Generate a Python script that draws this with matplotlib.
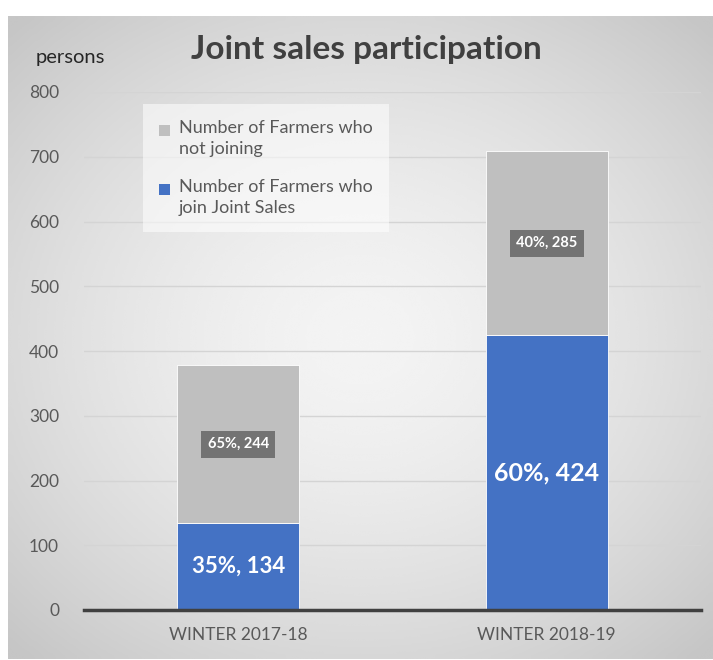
#!/usr/bin/env python3
"""
Stacked bar chart of joint sales participation per winter season.
"""
import numpy as np
import matplotlib
matplotlib.use("Agg")
import matplotlib.pyplot as plt
from matplotlib.patches import Patch

plt.rcParams['font.family'] = ['Lato', 'DejaVu Sans']

seasons = ["WINTER 2017-18", "WINTER 2018-19"]
joined = [134, 424]
not_joined = [244, 285]
joined_pct = [35, 60]
not_joined_pct = [65, 40]
series_names = ["Number of Farmers who\nnot joining",
                "Number of Farmers who\njoin Joint Sales"]

BLUE = "#4472c4"
GREY = "#bfbfbf"
TEXT = "#595959"


def main():
    fig = plt.figure(figsize=(7.13, 6.6), dpi=100)
    W, H = 713, 660

    # Radial grey panel behind the chart
    bg = fig.add_axes([8 / W, 1 / H, 705 / W, 643 / H], zorder=-5)
    yy, xx = np.mgrid[-1:1:300j, -1:1:300j]
    r = np.sqrt((xx * 0.95) ** 2 + (yy * 1.0) ** 2)
    shade = 0.955 - 0.18 * np.clip(r / 1.35, 0, 1) ** 1.6
    bg.imshow(shade, cmap="gray", vmin=0, vmax=1, aspect="auto",
              extent=[0, 1, 0, 1], interpolation="bicubic")
    bg.axis("off")

    ax = fig.add_axes([84 / W, 1 - 610 / H, 617 / W, 518 / H])
    ax.patch.set_alpha(0)
    x = np.arange(len(seasons))
    width = 0.395

    ax.bar(x, joined, width, color=BLUE, zorder=3,
           edgecolor="white", linewidth=0.6)
    ax.bar(x, not_joined, width, bottom=joined, color=GREY, zorder=3,
           edgecolor="white", linewidth=0.6)

    for i in range(len(seasons)):
        ax.text(x[i], joined[i] / 2, f"{joined_pct[i]}%, {joined[i]}",
                ha="center", va="center", color="white",
                fontsize=16 if joined[i] < 300 else 18, fontweight="bold",
                zorder=5)
        ax.text(x[i], joined[i] + not_joined[i] / 2,
                f"{not_joined_pct[i]}%, {not_joined[i]}",
                ha="center", va="center", color="white", fontsize=10.5,
                fontweight="bold", zorder=5,
                bbox=dict(boxstyle="square,pad=0.45", fc="#737373", ec="none"))

    ax.set_xlim(-0.5, 1.5)
    ax.set_ylim(0, 800)
    ax.set_yticks(range(0, 801, 100))
    ax.set_xticks(x)
    ax.set_xticklabels(seasons)
    ax.grid(axis="y", color="#d4d4d4", linewidth=1, zorder=0)
    for side in ["top", "right", "left"]:
        ax.spines[side].set_visible(False)
    ax.spines["bottom"].set_color("#404040")
    ax.spines["bottom"].set_linewidth(2.5)
    ax.spines["bottom"].set_zorder(4)
    ax.tick_params(axis="both", length=0, labelsize=12.5, colors=TEXT)
    ax.tick_params(axis="y", pad=18)
    ax.tick_params(axis="x", pad=12)

    fig.text(70 / W, 1 - 57 / H, "persons", ha="center", va="center",
             fontsize=14.5, color="#262626")
    fig.text(366 / W, 1 - 50 / H, "Joint sales participation", ha="center",
             va="center", fontsize=24, fontweight="bold", color="#404040")

    handles = [Patch(facecolor=GREY), Patch(facecolor=BLUE)]
    leg = ax.legend(handles, series_names, loc="upper left",
                    bbox_to_anchor=(143 / W, 1 - 104 / H),
                    bbox_transform=fig.transFigure, fontsize=13,
                    labelcolor=TEXT, frameon=True, fancybox=False,
                    handlelength=0.6, handleheight=0.6, handletextpad=0.5,
                    labelspacing=1.25, borderpad=0.9, borderaxespad=0)
    leg.get_frame().set_facecolor("white")
    leg.get_frame().set_alpha(0.55)
    leg.get_frame().set_edgecolor("none")
    for t in leg.get_texts():
        t.set_linespacing(1.35)
    for h in leg.legend_handles:
        h.set_y(h.get_y() + 6)

    fig.savefig("out.png", dpi=100)


if __name__ == "__main__":
    main()
